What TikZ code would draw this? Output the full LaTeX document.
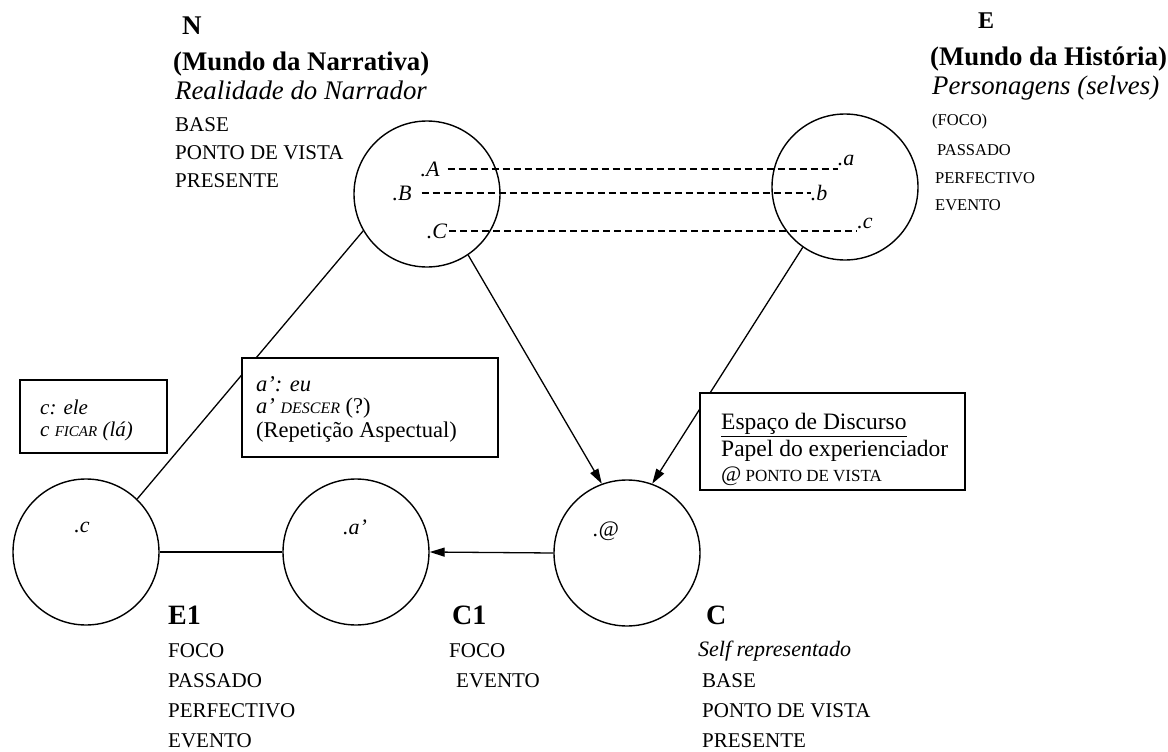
\documentclass[tikz,border=0pt]{standalone}
\usepackage{fontspec}
\setmainfont{Liberation Serif}
\usetikzlibrary{arrows.meta}
\tikzset{
  circ/.style={circle, draw, line width=1.4pt, minimum size=146pt, inner sep=0pt},
  lbl/.style={inner sep=0pt, font=\itshape\fontsize{22}{22}\selectfont},
  ttl/.style={anchor=west, inner sep=0pt, font=\bfseries\fontsize{26.8}{26.8}\selectfont},
  sub/.style={anchor=west, inner sep=0pt, font=\itshape\fontsize{26.8}{26.8}\selectfont},
  big/.style={anchor=west, inner sep=0pt, font=\bfseries\fontsize{28}{28}\selectfont},
  caps/.style={anchor=west, inner sep=0pt, font=\fontsize{21}{21}\selectfont},
  scaps/.style={anchor=west, inner sep=0pt, font=\fontsize{16.5}{16.5}\selectfont},
  boxtxt/.style={anchor=west, inner sep=0pt, font=\fontsize{22.5}{22.5}\selectfont},
  panel/.style={draw, line width=1.4pt, fill=white},
  dsh/.style={line width=1.3pt, dash pattern=on 7pt off 4pt},
  ln/.style={line width=1.3pt},
  arr/.style={line width=1.3pt, -{Triangle[length=15pt,width=9pt]}}
}
\begin{document}
\begin{tikzpicture}[x=1pt,y=-1pt]
\useasboundingbox[fill=white] (0,0) rectangle (1168,752);

% circles
\node[circ] (N) at (427,194) {};
\node[circ] (E) at (845,187) {};
\node[circ] (C) at (627,553) {};
\node[circ] (C1) at (356,552) {};
\node[circ] (E1) at (86,552) {};

% points inside circles
\node[lbl] (pA) at (430,169) {.A};
\node[lbl] (pB) at (402,193) {.B};
\node[lbl] (pC) at (437,231) {.C};
\node[lbl] (pa) at (846,160) {.a};
\node[lbl] (pb) at (819,193) {.b};
\node[lbl] (pc) at (865,223) {.c};
\node[lbl] (pc1) at (82,527) {.c};
\node[lbl] (pa1) at (355,527) {.a'};
\node[lbl] (pat) at (606,531) {.@};

% dashed correspondences
\draw[dsh] (pA.east) ++(8,0) coordinate (dA) -- (dA -| pa.west);
\draw[dsh] (pB.east) ++(10,0) coordinate (dB) -- (dB -| pb.west);
\draw[dsh] (pC.east) ++(2,0) coordinate (dC) -- (dC -| pc.west);

% connectors
\draw[ln] (N.210) -- (E1.46);
\draw[arr] (N.-56) -- (C.110);
\draw[arr] (E.-125) -- (C.70);
\draw[arr] (C.west) -- (C1.east);
\draw[ln] (C1.west) -- (E1.east);

% boxes
\draw[panel] (20,380) rectangle (167,453);
\node[boxtxt, font=\itshape\fontsize{21}{21}\selectfont] (t1) at (40,407) {c: ele};
\node[boxtxt, font=\fontsize{21}{21}\selectfont] (t2) at (40,431) {\textit{c} {\itshape\fontsize{15}{15}\selectfont FICAR} \textit{(lá)}};

\draw[panel] (242,358) rectangle (498,457);
\node[boxtxt, font=\itshape\fontsize{22.5}{22.5}\selectfont] (t3) at (256,384) {a': eu};
\node[boxtxt] (t4) at (256,408) {\textit{a'} {\itshape\fontsize{16}{16}\selectfont DESCER} (?)};
\node[boxtxt] (t5) at (256,432) {(Repetição Aspectual)};

\draw[panel] (700,393) rectangle (965,490);
\node[boxtxt, font=\fontsize{23.5}{23.5}\selectfont] (t6) at (721,425) {\underline{Espaço de Discurso}};
\node[boxtxt, font=\fontsize{23.5}{23.5}\selectfont] (t7) at (721,451) {Papel do experienciador};
\node[boxtxt, font=\fontsize{17}{17}\selectfont] (t8) at (721,476) {{\fontsize{22}{22}\selectfont @} PONTO DE VISTA};

% top left texts
\node[big, font=\bfseries\fontsize{27}{27}\selectfont] (Nl) at (182,26) {N};
\node[ttl] (Nt) at (173,64) {(Mundo da Narrativa)};
\node[sub] (Ns) at (175,90) {Realidade do Narrador};
\node[caps] (N1) at (175,125) {BASE};
\node[caps] (N2) at (175,153) {PONTO DE VISTA};
\node[caps] (N3) at (175,181) {PRESENTE};

% top right texts
\node[big, font=\bfseries\fontsize{24}{24}\selectfont] (El) at (978,21) {E};
\node[ttl] (Et) at (930,59) {(Mundo da História)};
\node[sub] (Es) at (932,88) {Personagens (selves)};
\node[scaps] (E1a) at (932,122) {(FOCO)};
\node[scaps] (E2a) at (937,150) {PASSADO};
\node[scaps] (E3a) at (935,178) {PERFECTIVO};
\node[scaps] (E4a) at (935,205) {EVENTO};

% bottom texts
\node[big] (E1l) at (168,615) {E1};
\node[caps] (b1) at (168,651) {FOCO};
\node[caps] (b2) at (168,681) {PASSADO};
\node[caps] (b3) at (168,711) {PERFECTIVO};
\node[caps] (b4) at (168,741) {EVENTO};

\node[big] (C1l) at (452,615) {C1};
\node[caps] (c1) at (449,651) {FOCO};
\node[caps] (c2) at (456,681) {EVENTO};

\node[big] (Cl) at (706,615) {C};
\node[sub, font=\itshape\fontsize{22}{22}\selectfont] (s0) at (698,651) {Self representado};
\node[caps] (s1) at (702,681) {BASE};
\node[caps] (s2) at (702,711) {PONTO DE VISTA};
\node[caps] (s3) at (702,741) {PRESENTE};
\end{tikzpicture}
\end{document}
